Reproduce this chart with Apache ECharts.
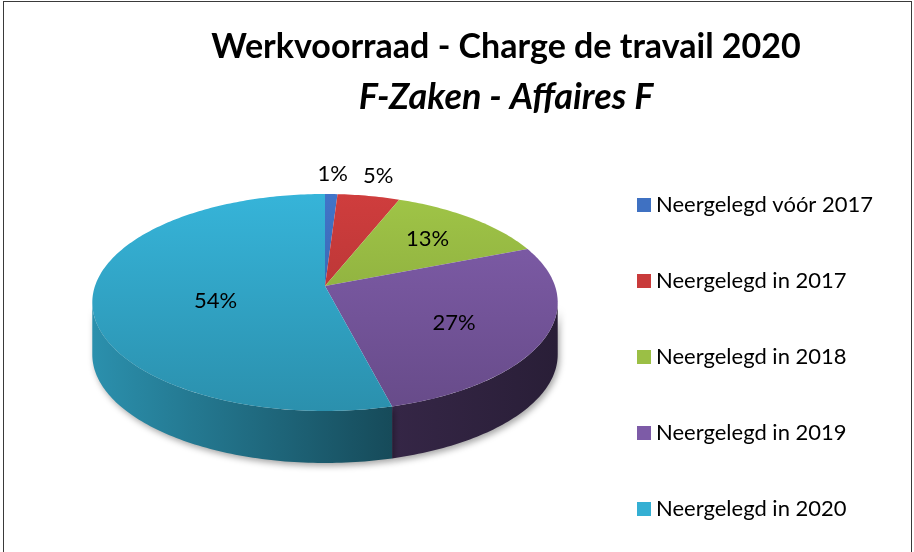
<!DOCTYPE html>
<html>
<head>
<meta charset="utf-8">
<title>Werkvoorraad - Charge de travail 2020</title>
<script src="https://cdn.jsdelivr.net/npm/echarts@6/dist/echarts.min.js"></script>
<style>
  html, body { margin: 0; padding: 0; background: #fff; }
  #chart { width: 914px; height: 552px; }
  /* chart frame, like the Excel chart area border */
  #frame {
    position: absolute; left: 3px; top: 1px; width: 907px; height: 600px;
    border: 1.5px solid #3a3a3a; pointer-events: none;
  }
</style>
</head>
<body>
<div id="chart"></div>
<div id="frame"></div>
<script>
// Werkvoorraad 2020, F-zaken: share of pending cases by year of filing.
// ECharts has no 3D pie, so each slice is a custom series that builds
// its own tilted-ellipse top face and front wall from the share values.

const TITLE = 'Werkvoorraad - Charge de travail 2020';
const SUBTITLE = 'F-Zaken - Affaires F';

const CATEGORIES = [
  'Neergelegd vóór 2017',
  'Neergelegd in 2017',
  'Neergelegd in 2018',
  'Neergelegd in 2019',
  'Neergelegd in 2020',
];
const SHARES = [1, 5, 13, 27, 54];   // percent
const COLORS = ['#3F71C2', '#C93B3B', '#9BBF45', '#7D5BA7', '#34AFD3'];

// Pie geometry (screen pixels)
const CX = 325, CY = 286;    // apex of the slices
const RX = 230, RY = 106;    // ellipse radii
const K = 0.152;             // perspective: far side smaller than near side
const DEPTH = 52;            // wall height
const FONT = 'Lato, "Open Sans", sans-serif';

const TOTAL = SHARES.reduce((a, b) => a + b, 0);

function shade(hex, f) {
  const n = parseInt(hex.slice(1), 16);
  const c = [(n >> 16) & 255, (n >> 8) & 255, n & 255].map(v => Math.min(255, Math.round(v * f)));
  return `rgb(${c[0]},${c[1]},${c[2]})`;
}

// point on the (perspective) ellipse, angle clockwise from 12 o'clock
function pt(theta, f, dy) {
  const s = 1 / (1 + K * Math.cos(theta));
  return [CX + RX * Math.sin(theta) * s * f, CY + (dy || 0) - RY * Math.cos(theta) * s * f];
}

function arc(a0, a1, dy) {
  const pts = [];
  const steps = Math.max(2, Math.ceil((a1 - a0) / (Math.PI / 180)));
  for (let k = 0; k <= steps; k++) pts.push(pt(a0 + (a1 - a0) * k / steps, 1, dy));
  return pts;
}

// visible front wall runs between the two widest points of the ellipse
const WALL_FROM = Math.acos(-K);
const WALL_TO = 2 * Math.PI - WALL_FROM;
const X_LEFT = CX - RX / Math.sqrt(1 - K * K);
const X_RIGHT = CX + RX / Math.sqrt(1 - K * K);

function renderSlice(params, api) {
  const i = params.seriesIndex;
  const value = api.value(0);
  const before = SHARES.slice(0, i).reduce((a, b) => a + b, 0);
  const a0 = before / TOTAL * 2 * Math.PI;
  const a1 = a0 + value / TOTAL * 2 * Math.PI;
  const color = COLORS[i];
  const children = [];

  // front wall
  const w0 = Math.max(a0, WALL_FROM), w1 = Math.min(a1, WALL_TO);
  if (w1 > w0) {
    const top = arc(w0, w1, 0);
    const bottom = arc(w0, w1, DEPTH).reverse();
    children.push({
      type: 'polygon',
      z2: 0,
      shape: { points: top.concat(bottom) },
      style: {
        fill: new echarts.graphic.LinearGradient(X_LEFT, 0, X_RIGHT, 0, [
          { offset: 0, color: shade(color, 0.82) },
          { offset: 0.65, color: shade(color, 0.42) },
          { offset: 1, color: shade(color, 0.33) },
        ], true),
        shadowColor: 'rgba(0,0,0,0.35)', shadowBlur: 6, shadowOffsetX: 2, shadowOffsetY: 3,
      },
    });
  }

  // top face
  children.push({
    type: 'polygon',
    z2: 10,
    shape: { points: [[CX, CY]].concat(arc(a0, a1, 0)) },
    style: {
      fill: new echarts.graphic.LinearGradient(0, CY - RY / (1 + K), 0, CY + RY / (1 - K), [
        { offset: 0, color: shade(color, 1.03) },
        { offset: 1, color: shade(color, 0.82) },
      ], true),
    },
  });

  // percentage label
  const mid = (a0 + a1) / 2;
  const frac = value / TOTAL;
  let lx, ly;
  if (frac < 0.08) {
    [lx, ly] = pt(mid, 1.22, 0);
  } else {
    const f = frac > 0.5 ? 0.48 : 0.63;
    lx = CX + RX * Math.sin(mid) * f;
    ly = CY - RY * Math.cos(mid) * f + (frac > 0.5 ? 9 : 4 - 5 * Math.cos(mid));
  }
  children.push({
    type: 'text',
    z2: 20,
    x: lx, y: ly,
    style: {
      text: Math.round(frac * 100) + '%',
      fill: '#000', font: `22px ${FONT}`,
      align: 'center', verticalAlign: 'middle',
    },
  });

  return { type: 'group', children };
}

const chart = echarts.init(document.getElementById('chart'), null, { renderer: 'canvas' });

chart.setOption({
  backgroundColor: '#fff',
  animation: false,
  title: [
    {
      text: TITLE, left: 501, top: 25, textAlign: 'center',
      textStyle: { fontFamily: FONT, fontWeight: 'bold', fontSize: 34, color: '#000' },
    },
    {
      text: SUBTITLE, left: 501, top: 74, textAlign: 'center',
      textStyle: { fontFamily: FONT, fontWeight: 'bold', fontStyle: 'italic', fontSize: 36, color: '#000' },
    },
  ],
  legend: {
    orient: 'vertical',
    left: 632, top: 188,
    icon: 'rect', itemWidth: 14, itemHeight: 14, itemGap: 52,
    data: CATEGORIES,
    selectedMode: false,
    textStyle: { fontFamily: FONT, fontSize: 22, color: '#000', lineHeight: 24 },
  },
  series: CATEGORIES.map((name, i) => ({
    type: 'custom',
    name,
    coordinateSystem: 'none',
    itemStyle: { color: COLORS[i] },
    data: [[SHARES[i]]],
    renderItem: renderSlice,
    silent: true,
  })),
});
</script>
</body>
</html>
